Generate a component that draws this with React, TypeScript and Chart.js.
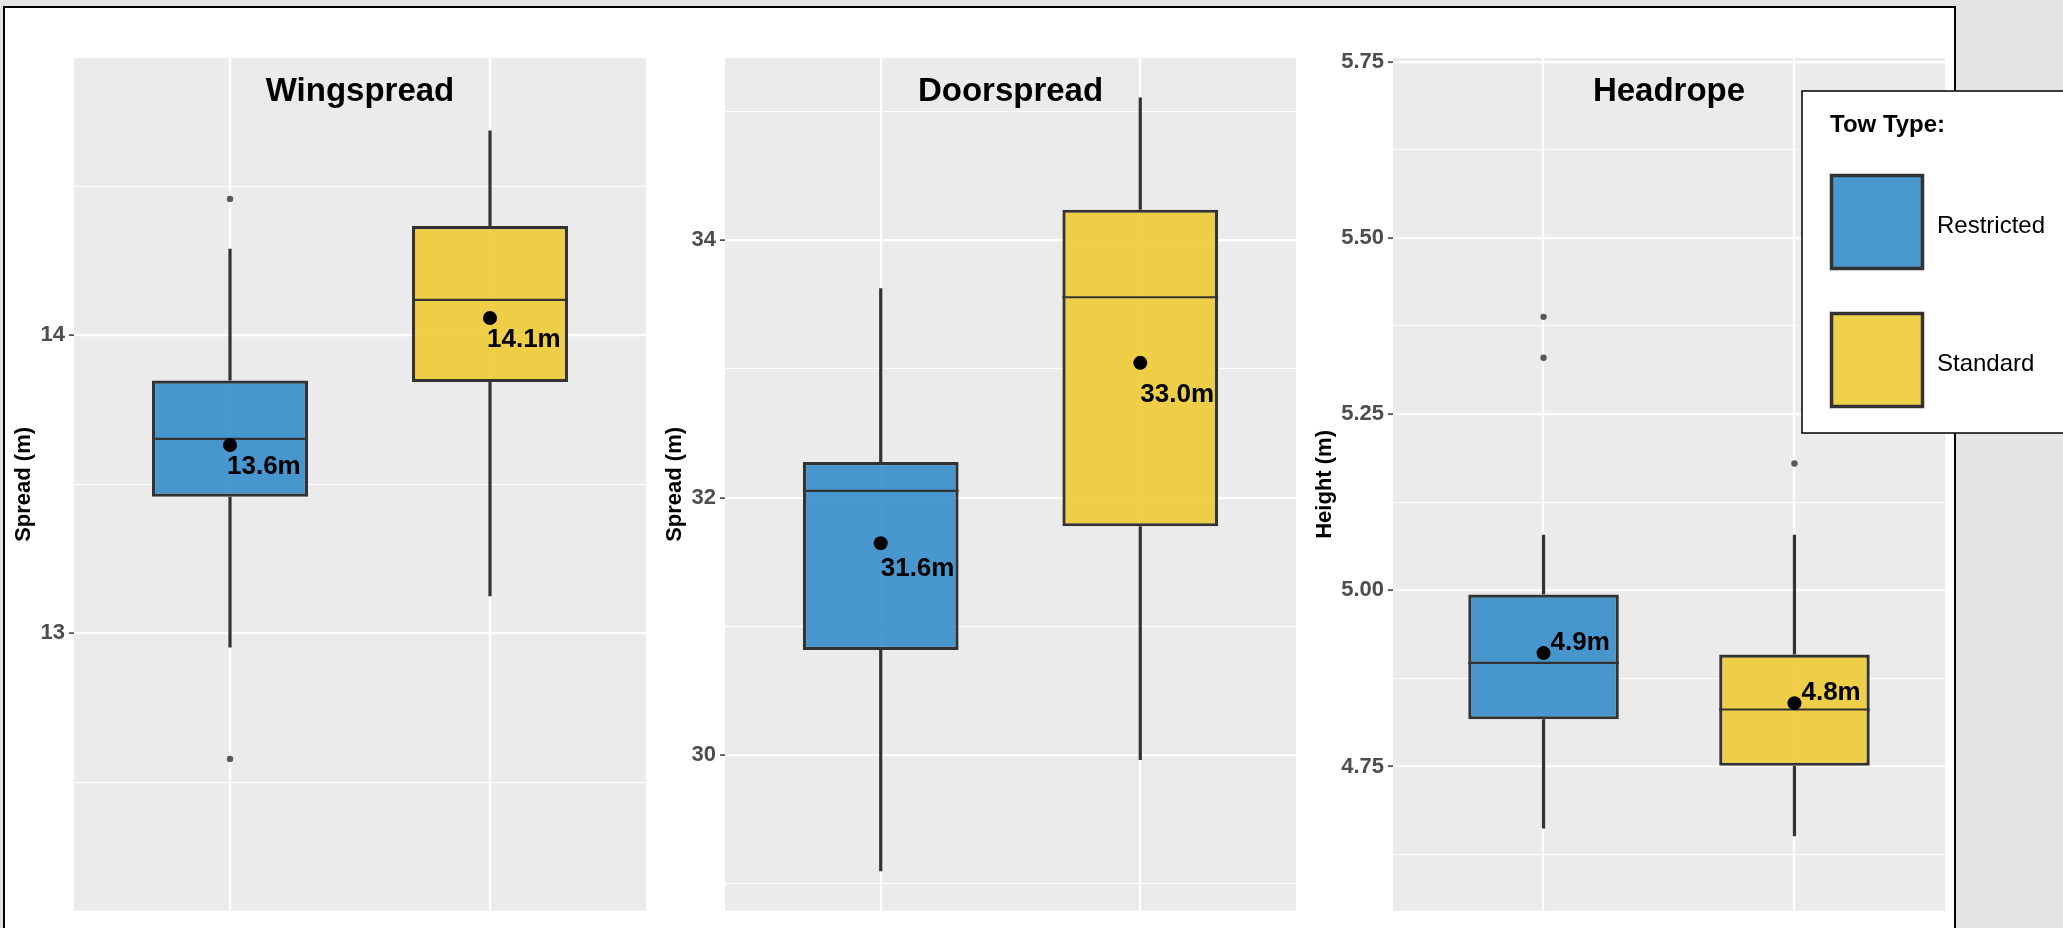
import React, { useEffect, useRef } from 'react';
import { Chart, registerables } from 'chart.js';

Chart.register(...registerables);

const FONT = "'Liberation Sans', Arial, Helvetica, sans-serif";
Chart.defaults.font.family = FONT;

// ---------- shared categories ----------
const towTypes = ['Restricted', 'Standard'];
const towFill = ['rgba(54,141,203,0.9)', 'rgba(238,203,52,0.9)'];
const categoryX = [1, 2];
const BOX_HALF = 0.3;

// ---------- Wingspread ----------
const wingQ1 = [13.458, 13.843];
const wingQ3 = [13.848, 14.367];
const wingMedian = [13.652, 14.119];
const wingMean = [13.632, 14.058];
const wingLow = [12.952, 13.124];
const wingHigh = [14.291, 14.688];
const wingOutliers = [[14.458, 12.578], []];
const wingMajorTicks = [13, 14];
const wingTickLabels = ['13', '14'];
const wingMinorTicks = [12.5, 13.5, 14.5];
const wingLimits = [12.068, 14.931];

// ---------- Doorspread ----------
const doorQ1 = [30.816, 31.777];
const doorQ3 = [32.277, 34.239];
const doorMedian = [32.053, 33.558];
const doorMean = [31.646, 33.048];
const doorLow = [29.095, 29.961];
const doorHigh = [33.628, 35.111];
const doorOutliers = [[], []];
const doorMajorTicks = [30, 32, 34];
const doorTickLabels = ['30', '32', '34'];
const doorMinorTicks = [29, 31, 33, 35];
const doorLimits = [28.788, 35.418];

// ---------- Headrope ----------
const headQ1 = [4.817, 4.751];
const headQ3 = [4.994, 4.909];
const headMedian = [4.897, 4.831];
const headMean = [4.911, 4.840];
const headLow = [4.662, 4.651];
const headHigh = [5.079, 5.079];
const headOutliers = [[5.388, 5.330], [5.180]];
const headMajorTicks = [4.75, 5.0, 5.25, 5.5, 5.75];
const headTickLabels = ['4.75', '5.00', '5.25', '5.50', '5.75'];
const headMinorTicks = [4.625, 4.875, 5.125, 5.375, 5.625];
const headLimits = [4.5454, 5.7552];

const panels = [
  {
    title: 'Wingspread', yTitle: 'Spread (m)',
    q1: wingQ1, q3: wingQ3, median: wingMedian, mean: wingMean, low: wingLow, high: wingHigh,
    outliers: wingOutliers, major: wingMajorTicks, tickLabels: wingTickLabels, minor: wingMinorTicks, limits: wingLimits,
    layout: { canvasLeft: 0, canvasWidth: 655, axisWidth: 74, yTitlePad: 10.8, padRight: 9 },
    labelOffsets: [[-3, 29], [-3, 29]], legend: false,
  },
  {
    title: 'Doorspread', yTitle: 'Spread (m)',
    q1: doorQ1, q3: doorQ3, median: doorMedian, mean: doorMean, low: doorLow, high: doorHigh,
    outliers: doorOutliers, major: doorMajorTicks, tickLabels: doorTickLabels, minor: doorMinorTicks, limits: doorLimits,
    layout: { canvasLeft: 655, canvasWidth: 650, axisWidth: 70, yTitlePad: 6.8, padRight: 9 },
    labelOffsets: [[0, 33], [0, 39]], legend: false,
  },
  {
    title: 'Headrope', yTitle: 'Height (m)',
    q1: headQ1, q3: headQ3, median: headMedian, mean: headMean, low: headLow, high: headHigh,
    outliers: headOutliers, major: headMajorTicks, tickLabels: headTickLabels, minor: headMinorTicks, limits: headLimits,
    layout: { canvasLeft: 1305, canvasWidth: 758, axisWidth: 88, yTitlePad: 6.8, padRight: 118 },
    labelOffsets: [[7, -3], [7, -3]], legend: true,
  },
];

// ---------- plugins ----------
const panelBackground = {
  id: 'panelBackground',
  beforeDraw(chart: any, _a: any, opts: any) {
    const { ctx, chartArea: a } = chart;
    ctx.save();
    ctx.fillStyle = opts.color || '#EBEBEB';
    ctx.fillRect(a.left, a.top, a.right - a.left, a.bottom - a.top);
    ctx.restore();
  },
};

const panelTitle = {
  id: 'panelTitle',
  afterDatasetsDraw(chart: any, _a: any, opts: any) {
    const { ctx, chartArea: a } = chart;
    ctx.save();
    ctx.font = `bold 33px ${FONT}`;
    ctx.fillStyle = '#000';
    ctx.textAlign = 'center';
    ctx.textBaseline = 'alphabetic';
    ctx.fillText(opts.text, (a.left + a.right) / 2, a.top + 43);
    ctx.restore();
  },
};

const meanLabels = {
  id: 'meanLabels',
  afterDatasetsDraw(chart: any, _a: any, opts: any) {
    const dsIndex = chart.data.datasets.findIndex((d: any) => d.label === 'mean');
    if (dsIndex < 0) return;
    const meta = chart.getDatasetMeta(dsIndex);
    const ds = chart.data.datasets[dsIndex];
    const { ctx } = chart;
    ctx.save();
    ctx.font = `bold 26px ${FONT}`;
    ctx.fillStyle = '#000';
    ctx.textAlign = 'left';
    ctx.textBaseline = 'alphabetic';
    meta.data.forEach((el: any, i: number) => {
      const off = opts.offsets[i] || [0, 0];
      const txt = ds.data[i].y.toFixed(1) + 'm';
      ctx.fillText(txt, el.x + off[0], el.y + off[1]);
    });
    ctx.restore();
  },
};

const towLegend = {
  id: 'towLegend',
  afterDraw(chart: any, _a: any, o: any) {
    if (!o.display) return;
    const { ctx } = chart;
    const box = chart.data.datasets.find((d: any) => d.label === 'box');
    const left = o.left, top = o.top, h = o.height;
    ctx.save();
    ctx.fillStyle = '#FFFFFF';
    ctx.fillRect(left, top, chart.width - left + 5, h);
    ctx.strokeStyle = '#000';
    ctx.lineWidth = 1.5;
    ctx.strokeRect(left, top, chart.width - left + 10, h);
    ctx.fillStyle = '#000';
    ctx.font = `bold 24px ${FONT}`;
    ctx.textAlign = 'left';
    ctx.textBaseline = 'alphabetic';
    ctx.fillText(o.title, left + 28, top + 41);
    towTypes.forEach((name, i) => {
      const ky = top + 83 + i * 138;
      ctx.fillStyle = '#FFFFFF';
      ctx.fillRect(left + 28, ky, 94, 96);
      ctx.fillStyle = box.backgroundColor[i];
      ctx.fillRect(left + 28, ky, 94, 96);
      ctx.strokeStyle = '#333333';
      ctx.lineWidth = 3.5;
      ctx.strokeRect(left + 29.5, ky + 1.5, 91, 93);
      ctx.fillStyle = '#000';
      ctx.font = `24px ${FONT}`;
      ctx.fillText(name, left + 135, ky + 59);
    });
    ctx.restore();
  },
};

function buildConfig(p: any) {
  const near = (a: number, b: number) => Math.abs(a - b) < 1e-6;
  const isMajor = (v: number) => p.major.some((m: number) => near(m, v));

  const whiskerData = categoryX.flatMap((x, i) => [
    { x, y: p.low[i] }, { x, y: p.q1[i] }, { x, y: null },
    { x, y: p.q3[i] }, { x, y: p.high[i] }, { x, y: null },
  ]);
  const medianData = categoryX.flatMap((x, i) => [
    { x: x - BOX_HALF, y: p.median[i] }, { x: x + BOX_HALF, y: p.median[i] }, { x, y: null },
  ]);
  const outlierData = categoryX.flatMap((x, i) => p.outliers[i].map((y: number) => ({ x, y })));

  return {
    type: 'scatter',
    data: {
      datasets: [
        {
          type: 'scatter', label: 'mean',
          data: categoryX.map((x, i) => ({ x, y: p.mean[i] })),
          pointRadius: 7, pointBackgroundColor: '#000000', pointBorderWidth: 0, order: 0,
        },
        {
          type: 'line', label: 'median', data: medianData,
          borderColor: '#333333', borderWidth: 2.2, pointRadius: 0, fill: false, spanGaps: false,
          borderCapStyle: 'butt', order: 1,
        },
        {
          type: 'bar', label: 'box',
          data: categoryX.map((x, i) => ({ x, y: [p.q1[i], p.q3[i]] })),
          backgroundColor: towFill, borderColor: '#333333', borderWidth: 3.2, borderSkipped: false,
          barPercentage: 2 * BOX_HALF, categoryPercentage: 1, order: 2,
        },
        {
          type: 'line', label: 'whisker', data: whiskerData,
          borderColor: '#333333', borderWidth: 3.2, pointRadius: 0, fill: false, spanGaps: false,
          borderCapStyle: 'butt', order: 3,
        },
        {
          type: 'scatter', label: 'outliers', data: outlierData,
          pointRadius: 3.2, pointBackgroundColor: '#595959', pointBorderWidth: 0, order: 4,
        },
      ],
    },
    options: {
      responsive: false,
      animation: false,
      events: [],
      layout: { padding: { left: 0, right: p.layout.padRight, top: 58, bottom: 11 } },
      plugins: {
        legend: { display: false },
        tooltip: { enabled: false },
        panelBackground: { color: '#EBEBEB' },
        panelTitle: { text: p.title },
        meanLabels: { offsets: p.labelOffsets },
        towLegend: { display: p.legend, title: 'Tow Type:', left: 497, top: 91, height: 342 },
      },
      scales: {
        x: {
          type: 'linear', min: 0.4, max: 2.6, offset: false,
          afterBuildTicks: (s: any) => { s.ticks = categoryX.map((v) => ({ value: v })); },
          afterFit: (s: any) => { s.height = 0; },
          ticks: { display: false },
          grid: { color: '#FFFFFF', lineWidth: 2.2, drawTicks: false, offset: false },
          border: { display: false },
        },
        y: {
          type: 'linear', min: p.limits[0], max: p.limits[1],
          afterBuildTicks: (s: any) => {
            s.ticks = [...p.major, ...p.minor].sort((a, b) => a - b).map((v) => ({ value: v }));
          },
          afterFit: (s: any) => { s.width = p.layout.axisWidth; },
          ticks: {
            autoSkip: false, padding: 4, color: '#4D4D4D',
            font: { size: 22, weight: 'bold' },
            callback: (value: number) => {
              const k = p.major.findIndex((m: number) => near(m, value));
              return k >= 0 ? p.tickLabels[k] : '';
            },
          },
          grid: {
            color: '#FFFFFF',
            lineWidth: (c: any) => (c.tick && isMajor(c.tick.value) ? 2.2 : 1.1),
            tickColor: (c: any) => (c.tick && isMajor(c.tick.value) ? '#333333' : 'rgba(0,0,0,0)'),
            tickWidth: 1.5,
            tickLength: 5,
            drawTicks: true,
          },
          border: { display: false },
          title: {
            display: true, text: p.yTitle, color: '#000000',
            font: { size: 22, weight: 'bold' },
            padding: { top: p.layout.yTitlePad, bottom: 0 },
          },
        },
      },
    },
    plugins: [panelBackground, panelTitle, meanLabels, towLegend],
  };
}

function Panel({ cfg }: { cfg: any }) {
  const ref = useRef<HTMLCanvasElement>(null);
  useEffect(() => {
    const chart = new Chart(ref.current as HTMLCanvasElement, buildConfig(cfg) as any);
    return () => chart.destroy();
  }, [cfg]);
  return (
    <canvas
      ref={ref}
      width={cfg.layout.canvasWidth}
      height={928}
      style={{ position: 'absolute', left: cfg.layout.canvasLeft, top: 0, width: cfg.layout.canvasWidth, height: 928 }}
    />
  );
}

export default function App() {
  return (
    <div style={{ position: 'absolute', left: 0, top: 0, width: 2063, height: 928, overflow: 'hidden', background: '#E4E4E4' }}>
      <div
        style={{
          position: 'absolute', left: 3, top: 6, width: 1949, height: 1000,
          border: '2px solid #000', background: '#FFFFFF',
        }}
      />
      {panels.map((p) => (
        <Panel key={p.title} cfg={p} />
      ))}
    </div>
  );
}
